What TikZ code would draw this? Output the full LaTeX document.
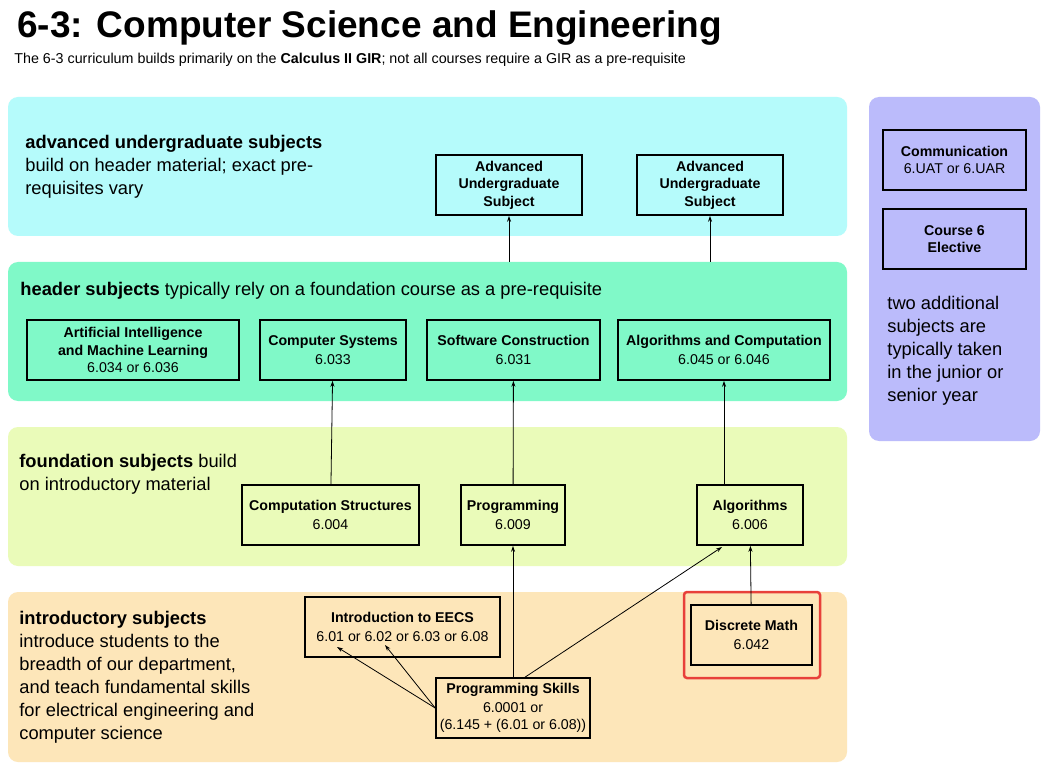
\documentclass[tikz,border=0pt]{standalone}
\usepackage{fontspec}
\setmainfont{Liberation Sans}
\usetikzlibrary{arrows.meta,positioning}
\definecolor{advcol}{HTML}{B5FBFB}
\definecolor{hdrcol}{HTML}{80F9C8}
\definecolor{fndcol}{HTML}{EAFBB9}
\definecolor{intcol}{HTML}{FDE6B9}
\definecolor{extcol}{HTML}{BBBBFB}
\definecolor{hilite}{HTML}{E8403A}
\tikzset{
 band/.style={rounded corners=10pt},
 subj/.style={draw,line width=1.6pt,align=center,inner sep=2pt,font=\fontsize{14.2}{17.5}\selectfont},
 note/.style={anchor=north west,align=left,inner sep=0pt,font=\fontsize{18.3}{23}\selectfont},
}
\begin{document}
\begin{tikzpicture}[x=1pt,y=-1pt,>={Stealth[length=6pt,width=4pt]},line width=0.8pt]
\useasboundingbox[fill=white](0,0)rectangle(1051,775);
\node[anchor=base west,inner sep=0pt,font=\fontsize{37}{40}\selectfont\bfseries] at (17,38) {6-3: Computer Science and Engineering};
\node[anchor=base west,inner sep=0pt,font=\fontsize{14.3}{16}\selectfont] at (14,64) {The 6-3 curriculum builds primarily on the \textbf{Calculus II GIR}; not all courses require a GIR as a pre-requisite};
% bands
\fill[band,advcol](8,97)rectangle(847,236);
\fill[band,hdrcol](8,262)rectangle(847,401);
\fill[band,fndcol](8,427)rectangle(847,566);
\fill[band,intcol](8,592)rectangle(847,762);
\fill[band,extcol](869,97)rectangle(1040,441);
\coordinate(hdrtopL)at(509,262);
\coordinate(hdrtopR)at(710,262);
\node[note] at (25,135) {\textbf{advanced undergraduate subjects}\\build on header material; exact pre-\\requisites vary};
\node[note] at (20,282) {\textbf{header subjects} typically rely on a foundation course as a pre-requisite};
\node[note] at (19,454) {\textbf{foundation subjects} build\\on introductory material};
\node[note] at (19,611) {\textbf{introductory subjects}\\introduce students to the\\breadth of our department,\\and teach fundamental skills\\for electrical engineering and\\computer science};
\node[note] at (887,296) {two additional\\subjects are\\typically taken\\in the junior or\\senior year};
% advanced
\node[subj,minimum width=146pt,minimum height=60pt](adv1)at(509,185){\textbf{Advanced}\\\textbf{Undergraduate}\\\textbf{Subject}};
\node[subj,minimum width=146pt,minimum height=60pt](adv2)at(710,185){\textbf{Advanced}\\\textbf{Undergraduate}\\\textbf{Subject}};
% header
\node[subj,minimum width=212pt,minimum height=60pt](ai)at(133,350){\textbf{Artificial Intelligence}\\\textbf{and Machine Learning}\\6.034 or 6.036};
\node[subj,minimum width=146pt,minimum height=60pt](sys)at(333,350){\textbf{Computer Systems}\\[2pt]6.033};
\node[subj,minimum width=173pt,minimum height=60pt](swc)at(513.5,350){\textbf{Software Construction}\\[2pt]6.031};
\node[subj,minimum width=212pt,minimum height=60pt](aac)at(724,350){\textbf{Algorithms and Computation}\\[2pt]6.045 or 6.046};
% foundation
\node[subj,minimum width=177pt,minimum height=60pt](cst)at(330.5,515){\textbf{Computation Structures}\\[2pt]6.004};
\node[subj,minimum width=104pt,minimum height=60pt](prg)at(513,515){\textbf{Programming}\\[2pt]6.009};
\node[subj,minimum width=106pt,minimum height=60pt](alg)at(750,515){\textbf{Algorithms}\\[2pt]6.006};
% introductory
\node[subj,minimum width=195pt,minimum height=60pt](eecs)at(402.5,627){\textbf{Introduction to EECS}\\[1pt]6.01 or 6.02 or 6.03 or 6.08};
\node[subj,minimum width=121pt,minimum height=60pt](dm)at(751.5,635){\textbf{Discrete Math}\\[2pt]6.042};
\draw[hilite,line width=2.5pt,rounded corners=3pt](684,592)rectangle(820,678);
\node[subj,minimum width=154pt,minimum height=60pt,inner sep=1pt](skl)at(513,708){\textbf{Programming Skills}\\[1pt]6.0001 or\\(6.145 + (6.01 or 6.08))};
% extra
\node[subj,minimum width=143pt,minimum height=60pt](com)at(954.5,160){\textbf{Communication}\\6.UAT or 6.UAR};
\node[subj,minimum width=143pt,minimum height=60pt](elc)at(954.5,239){\textbf{Course 6}\\\textbf{Elective}};
% prerequisites
\draw[->](hdrtopL)--(adv1);
\draw[->](hdrtopR)--(adv2);
\draw[->](cst)--(sys);
\draw[->](prg)--(swc);
\draw[->](alg.north-|aac)--(aac);
\draw[->](skl)--(prg);
\draw[->](skl.north)++(12,0)--(722,547);
\draw[->](dm)--(alg);
\draw[->](skl.west)--(337,647);
\draw[->](skl.west)--(385,645);
\end{tikzpicture}
\end{document}
